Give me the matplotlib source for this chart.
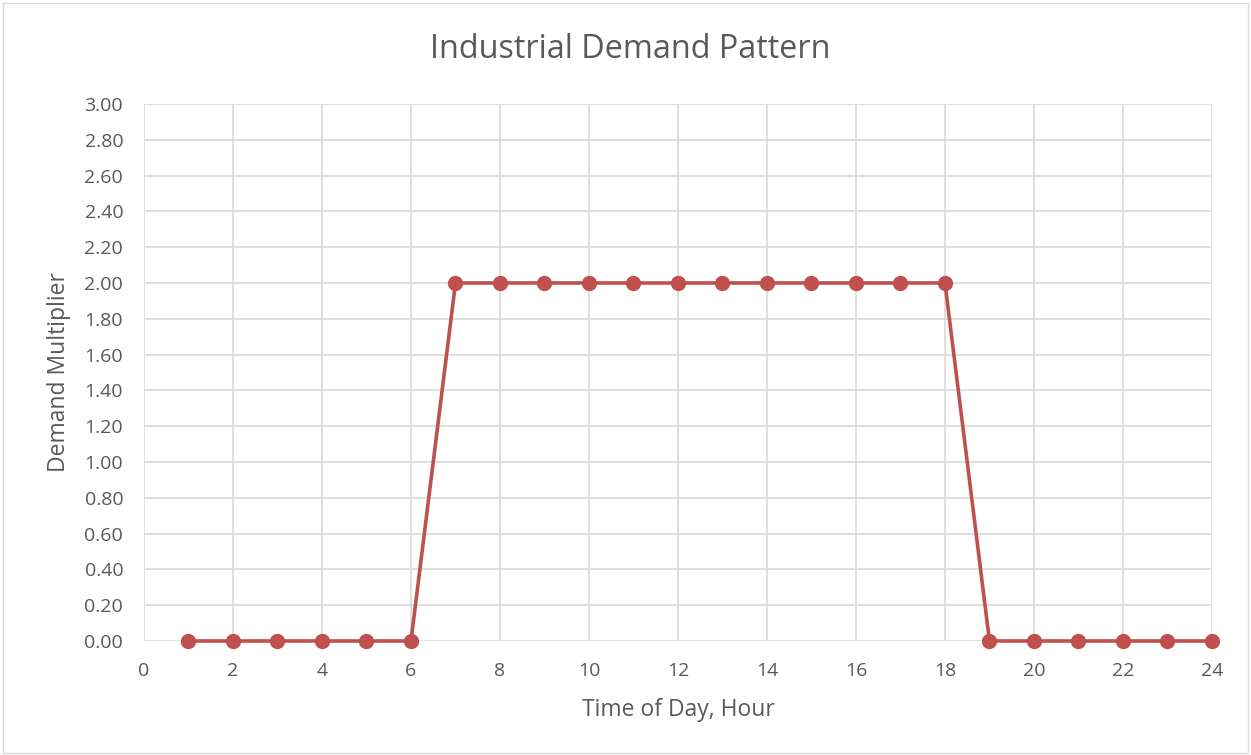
import matplotlib.pyplot as plt

hours = list(range(1, 25))
multiplier = [0, 0, 0, 0, 0, 0, 2, 2, 2, 2, 2, 2,
              2, 2, 2, 2, 2, 2, 0, 0, 0, 0, 0, 0]
x_ticks = list(range(0, 25, 2))
y_ticks = [i * 0.2 for i in range(16)]

txt = '#595959'
plt.rcParams['font.family'] = ['Open Sans', 'DejaVu Sans']

fig = plt.figure(figsize=(12.51, 7.55), dpi=100)
ax = fig.add_axes([0.1151, 0.1510, 0.8537, 0.7113])

ax.plot(hours, multiplier, color='#C0504D', linewidth=2.6, marker='o',
        markersize=10, zorder=3, clip_on=False)

ax.set_xlim(0, 24)
ax.set_ylim(0, 3)
ax.set_xticks(x_ticks)
ax.set_yticks(y_ticks)
ax.set_yticklabels([f'{v:.2f}' for v in y_ticks])
ax.grid(True, color='#D9D9D9', linewidth=1.2)
ax.set_axisbelow(True)
for s in ax.spines.values():
    s.set_visible(False)
ax.tick_params(length=0, labelsize=14, colors=txt)
ax.tick_params(axis='y', pad=15)
ax.tick_params(axis='x', pad=15)

# titel, figure-centred like excel
fig.text(0.5036, 1 - 58 / 755, 'Industrial Demand Pattern', fontsize=23.3,
         color=txt, ha='center', va='baseline')
ax.set_xlabel('Time of Day, Hour', fontsize=16.5, color=txt)
ax.set_ylabel('Demand Multiplier', fontsize=16.5, color=txt, va='center')
ax.xaxis.set_label_coords(0.5, -0.106)
ax.yaxis.set_label_coords(-0.0795, 0.5)

fig.patches.append(plt.Rectangle((0.002, 0.002), 0.996, 0.994, transform=fig.transFigure,
                                 fill=False, edgecolor='#D9D9D9', linewidth=1))

fig.savefig('out.png', dpi=100)
